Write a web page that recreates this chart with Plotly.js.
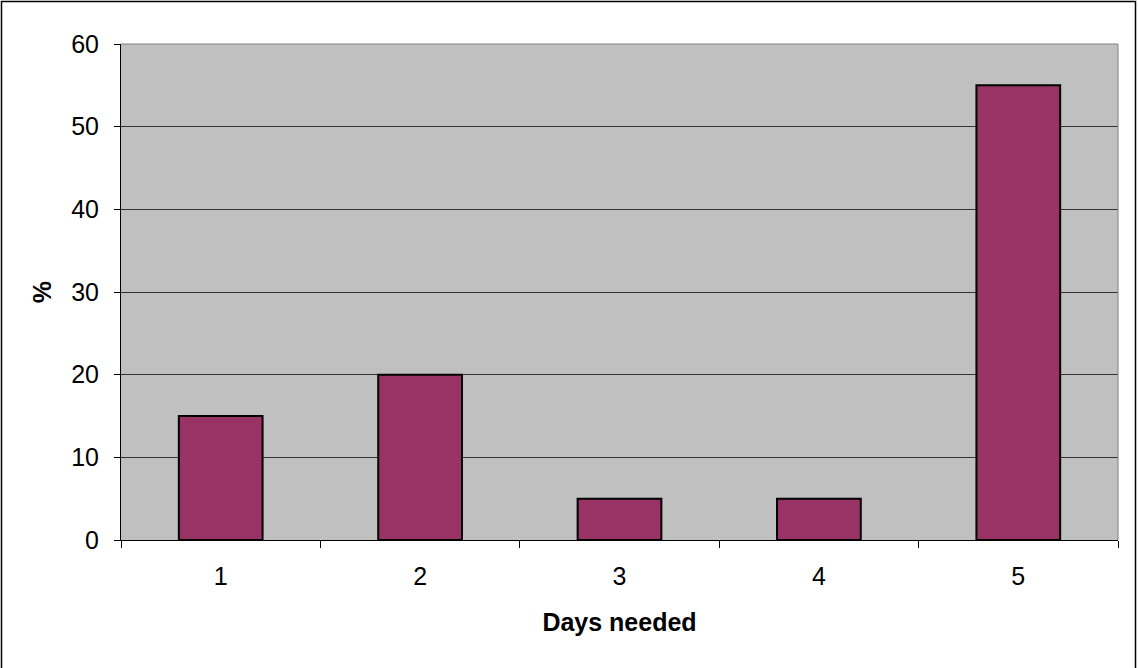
<!DOCTYPE html>
<html>
<head>
<meta charset="utf-8">
<script src="https://cdn.plot.ly/plotly-3.0.1.min.js"></script>
<style>
  html, body { margin: 0; padding: 0; background: #fff; }
  #chart { width: 1138px; height: 668px; }
</style>
</head>
<body>
<div id="chart"></div>
<script>
// Share of cases by number of days needed
const days = ['1', '2', '3', '4', '5'];
const percent = [15, 20, 5, 5, 55];

const W = 1138, H = 668;
const M = { l: 121, r: 20, t: 44, b: 128 };
const pw = W - M.l - M.r, ph = H - M.t - M.b;
// pixel -> paper helpers for the outer frame
const px = p => (p - M.l) / pw;
const py = p => (H - M.b - p) / ph;

const font = 'Liberation Sans, Arial, sans-serif';

Plotly.newPlot('chart', [{
  type: 'bar',
  x: days,
  y: percent,
  marker: { color: '#993366', line: { color: '#000000', width: 2 } },
  hoverinfo: 'x+y'
}], {
  width: W, height: H,
  margin: M,
  paper_bgcolor: '#ffffff',
  plot_bgcolor: '#c0c0c0',
  bargap: 0.58,
  showlegend: false,
  font: { family: font, size: 25, color: '#000' },
  xaxis: {
    type: 'category',
    tickson: 'boundaries',
    ticks: 'outside', ticklen: 7, tickcolor: '#000', tickwidth: 1,
    showline: true, linecolor: '#000', linewidth: 1,
    showgrid: false,
    tickfont: { family: font, size: 25 },
    ticklabelstandoff: 14,
    title: { text: '<b>Days needed</b>', font: { family: font, size: 25 }, standoff: 24 }
  },
  yaxis: {
    range: [0, 60], dtick: 10,
    ticks: 'outside', ticklen: 6, tickcolor: '#000', tickwidth: 1,
    showline: true, linecolor: '#000', linewidth: 1,
    showgrid: true, gridcolor: '#333333', gridwidth: 1,
    zeroline: false,
    tickfont: { family: font, size: 25 },
    ticklabelstandoff: 10,
    title: { text: '<b>%</b>', font: { family: font, size: 25 }, standoff: 12 }
  },
  shapes: [
    // grey top and right edges of the plotting area
    { type: 'line', xref: 'paper', yref: 'paper', x0: 0, x1: 1, y0: 1, y1: 1,
      line: { color: '#808080', width: 1 } },
    { type: 'line', xref: 'paper', yref: 'paper', x0: 1, x1: 1, y0: 0, y1: 1,
      line: { color: '#808080', width: 1 } },
    // outer chart frame (open at the bottom edge of the figure)
    { type: 'path', xref: 'paper', yref: 'paper',
      path: 'M ' + px(1.5) + ',' + py(H + 5) + ' L ' + px(1.5) + ',' + py(1.5) +
            ' L ' + px(W - 2.5) + ',' + py(1.5) + ' L ' + px(W - 2.5) + ',' + py(H + 5),
      line: { color: '#000', width: 1.5 }, layer: 'above' }
  ]
}, { displayModeBar: false, staticPlot: true });
</script>
</body>
</html>
